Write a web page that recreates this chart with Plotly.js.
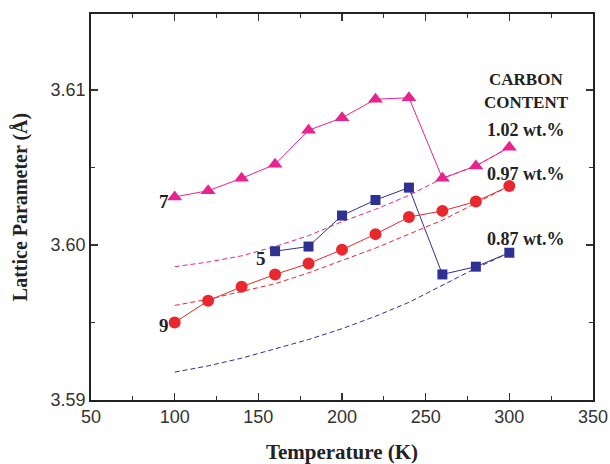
<!DOCTYPE html>
<html><head><meta charset="utf-8">
<script src="https://cdn.plot.ly/plotly-3.0.1.min.js"></script>
<style>body{margin:0;background:#fff}#c{width:610px;height:464px}</style>
</head><body><div id="c"></div>
<script>
var temps = [100,120,140,160,180,200,220,240,260,280,300];
var tempsS5 = [160,180,200,220,240,260,280,300];
var s7_102 = [3.6031,3.6035,3.6043,3.6052,3.6074,3.6082,3.6094,3.6095,3.6043,3.6051,3.6063];
var s5_087 = [3.5996,3.5999,3.6019,3.6029,3.6037,3.5981,3.5986,3.5995];
var s9_097 = [3.5950,3.5964,3.5973,3.5981,3.5988,3.5997,3.6007,3.6018,3.6022,3.6028,3.6038];
var fit102 = [3.5986,3.5989,3.5993,3.5999,3.6006,3.6015,3.6023,3.6032,3.6043,3.6051,3.6063];
var fit097 = [3.5961,3.5965,3.5970,3.5975,3.5982,3.5990,3.5998,3.6007,3.6016,3.6027,3.6038];
var fit087 = [3.5918,3.5922,3.5927,3.5933,3.5939,3.5946,3.5954,3.5963,3.5974,3.5985,3.5995];

var magenta = '#e8238f', red = '#e8282e', blue = '#2e3192';
var serif = 'Liberation Serif, Times New Roman, serif';
var data = [
  {x: temps, y: fit102, mode: 'lines', line: {color: magenta, width: 1, dash: '5px,3px'}, hoverinfo: 'skip'},
  {x: temps, y: fit097, mode: 'lines', line: {color: red, width: 1, dash: '5px,3px'}, hoverinfo: 'skip'},
  {x: temps, y: fit087, mode: 'lines', line: {color: blue, width: 1, dash: '5px,3px'}, hoverinfo: 'skip'},
  {x: temps, y: s7_102, mode: 'lines+markers', line: {color: magenta, width: 1}, marker: {symbol: 'triangle-up', size: 13, color: magenta}},
  {x: tempsS5, y: s5_087, mode: 'lines+markers', line: {color: blue, width: 1}, marker: {symbol: 'square', size: 10, color: blue}},
  {x: temps, y: s9_097, mode: 'lines+markers', line: {color: red, width: 1}, marker: {symbol: 'circle', size: 12, color: red}}
];
function ann(x, y, t, size, xanchor) {
  return {x: x, y: y, xref: 'x', yref: 'y', text: '<b>' + t + '</b>', showarrow: false,
    font: {family: serif, size: size, color: '#222'}, xanchor: xanchor || 'center', yanchor: 'middle'};
}
var tickFont = {family: 'Liberation Sans, Arial, sans-serif', size: 18, color: '#333'};
var layout = {
  width: 610, height: 464,
  margin: {l: 91, r: 17, t: 14, b: 64},
  paper_bgcolor: '#fff', plot_bgcolor: '#fff',
  showlegend: false,
  xaxis: {range: [50, 350], dtick: 50, tick0: 50, ticks: 'inside', ticklen: 7, tickwidth: 1.2, tickcolor: '#333',
    showline: true, linecolor: '#222', linewidth: 1.8, mirror: 'ticks', showgrid: false, zeroline: false,
    minor: {dtick: 25, ticks: 'inside', ticklen: 4, tickcolor: '#333', tickwidth: 1},
    tickfont: tickFont,
    title: {text: '<b>Temperature (K)</b>', font: {family: serif, size: 21, color: '#222'}, standoff: 18}},
  yaxis: {range: [3.59, 3.6149], dtick: 0.01, tick0: 3.59, tickformat: '.2f', ticks: 'inside', ticklen: 7, tickwidth: 1.2, tickcolor: '#333',
    showline: true, linecolor: '#222', linewidth: 1.8, mirror: 'ticks', showgrid: false, zeroline: false,
    minor: {dtick: 0.005, ticks: 'inside', ticklen: 4, tickcolor: '#333', tickwidth: 1},
    tickfont: tickFont,
    title: {text: '<b>Lattice Parameter (Å)</b>', font: {family: serif, size: 20, color: '#222'}, standoff: 17}},
  annotations: [
    ann(98, 3.6028, '7', 19, 'right'),
    ann(156, 3.5991, '5', 19, 'right'),
    ann(98, 3.5948, '9', 19, 'right'),
    ann(310, 3.6107, 'CARBON', 17),
    ann(310, 3.6092, 'CONTENT', 17),
    ann(310, 3.6074, '1.02 wt.%', 18),
    ann(310, 3.6046, '0.97 wt.%', 18),
    ann(310, 3.6004, '0.87 wt.%', 18)
  ]
};
Plotly.newPlot('c', data, layout, {staticPlot: true});
</script></body></html>
